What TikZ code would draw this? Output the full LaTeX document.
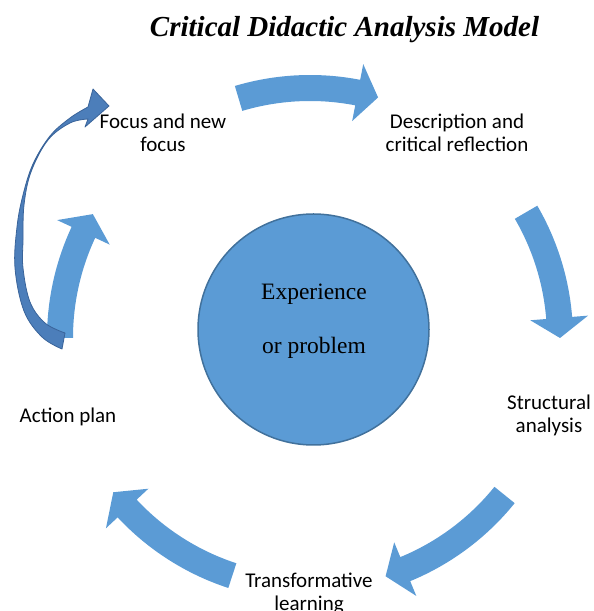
\documentclass[tikz,border=0pt]{standalone}
\usepackage{fontspec}
\setmainfont{Liberation Serif}
\newfontfamily\calfont{Carlito}
\usetikzlibrary{calc}
\definecolor{arrowblue}{RGB}{91,155,213}
\definecolor{circleedge}{RGB}{65,113,156}
\definecolor{darkarrow}{RGB}{76,126,186}
\definecolor{darkedge}{RGB}{58,100,154}
\tikzset{
  cyclefill/.style={fill=arrowblue},
  lbl/.style={font={\calfont\fontsize{21}{23}\selectfont}, align=center, anchor=base, inner sep=0pt},
}
\newcommand\cyclearrow[3]{%
  \fill[cyclefill] ($(C)+(#1:263)$) arc[start angle=#1, end angle=#2, radius=263]
    -- ($(C)+(#2:279)$) -- ($(C)+(#3:250)$) -- ($(C)+(#2:221)$) -- ($(C)+(#2:237)$)
    arc[start angle=#2, end angle=#1, radius=237] -- cycle;}
\begin{document}
\begin{tikzpicture}[x=1pt,y=1pt]
\useasboundingbox (0,0) rectangle (594,611);
\coordinate (C) at (310,273);
% title
\node[anchor=base, inner sep=0pt, font={\fontsize{29}{32}\selectfont\bfseries\itshape}] (title) at (344.5,574) {Critical Didactic Analysis Model};
% cycle arrows
\cyclearrow{106.6}{79}{74.2}
\cyclearrow{30.2}{4.6}{0}
\cyclearrow{-38.9}{-67.6}{-72.4}
\cyclearrow{-108.1}{-137}{-141.9}
\cyclearrow{180}{155}{150.3}
% dark curved arrow
\filldraw[fill=darkarrow, draw=darkedge, line width=0.8pt, line join=round]
  plot[smooth, tension=0.6] coordinates {(62,262) (42,274) (24,300) (15,343) (17,384) (23,416) (33,447) (50,475) (70,493) (88,504)}
  -- (93,522) -- (109,505) -- (85,484) -- (88,492)
  -- plot[smooth, tension=0.6] coordinates {(88,492) (70,488) (48,471) (31,439) (24,406) (23,371) (23,343) (30,309) (45,288) (65,278)}
  -- cycle;
% centre circle
\node[circle, fill=arrowblue, draw=circleedge, line width=1.5pt, minimum size=231pt, inner sep=0pt] (exp) at (313.5,281.5) {};
\node[anchor=base, inner sep=0pt, align=center, font={\fontsize{23.5}{54}\selectfont}] (exptext) at (314,257) {Experience\\or problem};
% labels
\node[lbl] (focus) at (163,459) {Focus and new\\focus};
\node[lbl] (desc) at (457,459) {Description and\\critical reflection};
\node[lbl] (struct) at (549,178) {Structural\\analysis};
\node[lbl] (action) at (68,188.3) {Action plan};
\node[lbl] (trans) at (309,1) {Transformative\\learning};
\end{tikzpicture}
\end{document}
